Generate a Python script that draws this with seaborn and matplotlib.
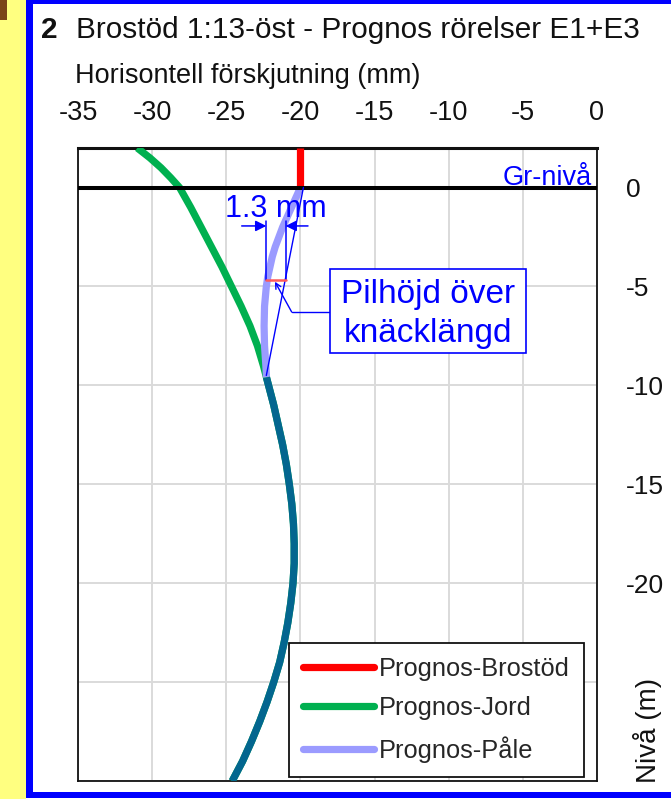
import matplotlib
matplotlib.use("Agg")
import matplotlib.pyplot as plt
import seaborn as sns
import pandas as pd
from matplotlib.patches import Rectangle
from matplotlib.lines import Line2D

# ---------------- data ----------------
title_num = "2"
title_text = "Brostöd 1:13-öst - Prognos rörelser E1+E3"
x_label = "Horisontell förskjutning (mm)"
y_label = "Nivå (m)"
x_ticks = [-35, -30, -25, -20, -15, -10, -5, 0]
y_ticks = [0, -5, -10, -15, -20, -25, -30]
y_tick_labels = ["0", "-5", "-10", "-15", "-20", "", ""]
series_names = ["Prognos-Brostöd", "Prognos-Jord", "Prognos-Påle"]

brostod_depth = [2.0, 0.0]
brostod_x = [-20.0, -20.0]

jord_depth = [2.0, 1.5, 1.0, 0.5, 0.0, -1, -2, -3, -4, -5, -6, -7, -8, -9, -10,
              -11, -12, -13, -14, -15, -16, -17, -18, -19, -20, -21, -22, -23,
              -24, -25, -26, -27, -28, -29, -30]
jord_x = [-31.0, -30.15, -29.4, -28.75, -28.15, -27.4, -26.7, -26.0, -25.3, -24.65,
          -24.0, -23.4, -22.9, -22.5, -22.15, -21.8, -21.5, -21.2, -20.95, -20.75,
          -20.58, -20.47, -20.42, -20.42, -20.5, -20.65, -20.85, -21.1, -21.4,
          -21.8, -22.25, -22.75, -23.3, -23.9, -24.6]

# pile: upper free part (deviates from soil) and lower part following the soil
pale_upper_depth = [0.0, -0.5, -1.0, -1.5, -2.0, -2.5, -3.0, -3.5, -4.0, -4.5,
                    -5.0, -6.0, -7.0, -8.0, -9.0, -9.6]
pale_upper_x = [-20.0, -20.3, -20.6, -20.9, -21.2, -21.45, -21.7, -21.9, -22.05,
                -22.2, -22.3, -22.42, -22.45, -22.42, -22.33, -22.29]
pale_lower_depth = [-9.6, -10, -11, -12, -13, -14, -15, -16, -17, -18, -19, -20,
                    -21, -22, -23, -24, -25, -26, -27, -28, -29, -30]
pale_lower_x = [-22.29, -22.15, -21.8, -21.5, -21.2, -20.95, -20.75, -20.58,
                -20.47, -20.42, -20.42, -20.5, -20.65, -20.85, -21.1, -21.4,
                -21.8, -22.25, -22.75, -23.3, -23.9, -24.6]

# buckling annotation values
sag_label = "1.3 mm"
sag_top_depth = -1.7
sag_depth = -4.67
sag_left = -22.3
sag_right = -21.0
chord_depth = [0.0, -9.5]
chord_x = [-19.8, -22.3]
callout_text = ["Pilhöjd över", "knäcklängd"]
ground_label = "Gr-nivå"

# ---------------- style ----------------
sns.set_theme(style="white")
plt.rcParams["font.family"] = ["Liberation Sans", "DejaVu Sans"]

W, H = 671, 799
fig = plt.figure(figsize=(W / 100, H / 100), dpi=100)
fig.patch.set_facecolor("white")


def px_rect(x0, y0, x1, y1, color, **kw):
    r = Rectangle((x0 / W, 1 - y1 / H), (x1 - x0) / W, (y1 - y0) / H,
                  transform=fig.transFigure, facecolor=color, edgecolor="none", **kw)
    fig.add_artist(r)


# frame decoration
px_rect(0, 0, 25.5, H, "#ffff80")
px_rect(0, 0, 7, 20, "#7a4518")
px_rect(25.5, 0, 32.5, 797.5, "#0000ff")
px_rect(25.5, 0, W, 3.5, "#0000ff")
px_rect(25.5, 791.5, W, 797.5, "#0000ff")

ax = fig.add_axes([78 / W, 1 - 781 / H, 519 / W, 633 / H])
ax.set_facecolor("white")

RED = "#ff0000"
GREEN = "#00b050"
LAV = "#9b9bff"
TEAL = "#03668f"
BLUE = "#0000ff"

df_j = pd.DataFrame({"x": jord_x, "d": jord_depth})
df_pu = pd.DataFrame({"x": pale_upper_x, "d": pale_upper_depth})
df_pl = pd.DataFrame({"x": pale_lower_x, "d": pale_lower_depth})
df_b = pd.DataFrame({"x": brostod_x, "d": brostod_depth})

common = dict(sort=False, estimator=None, orient="y", legend=False, ax=ax)
sns.lineplot(data=df_j, x="x", y="d", color=GREEN, lw=5.2, zorder=3,
             solid_capstyle="butt", solid_joinstyle="round", **common)
sns.lineplot(data=df_pu, x="x", y="d", color=LAV, lw=5.2, zorder=4,
             solid_capstyle="butt", solid_joinstyle="round", **common)
sns.lineplot(data=df_pl, x="x", y="d", color=TEAL, lw=5.2, zorder=4,
             solid_capstyle="butt", solid_joinstyle="round", **common)
sns.lineplot(data=df_b, x="x", y="d", color=RED, lw=5.2, zorder=5,
             solid_capstyle="butt", **common)

ax.axhline(0, color="black", lw=2.9, zorder=6)

ax.set_xlim(-35, 0)
ax.set_ylim(-30, 2)
ax.set_xticks(x_ticks)
ax.set_xticklabels([str(v) for v in x_ticks])
ax.set_yticks(y_ticks)
ax.set_yticklabels(y_tick_labels)
ax.set_xlabel("")
ax.set_ylabel("")
ax.grid(True, color="#dadada", lw=1.4)
ax.set_axisbelow(True)
ax.tick_params(axis="x", top=True, bottom=False, labeltop=True, labelbottom=False,
               length=0, pad=16, labelsize=19.5, labelcolor="#111111")
ax.tick_params(axis="y", right=True, left=False, labelright=True, labelleft=False,
               length=0, pad=21, labelsize=19, labelcolor="#111111")
for s in ax.spines.values():
    s.set_visible(True)
    s.set_color("#111111")
    s.set_linewidth(1.3)
ax.spines["top"].set_linewidth(2.2)

# annotation: sag measurement
ann_kw = dict(color=BLUE, lw=1.1, zorder=7)
ax.plot([sag_left, sag_left], [sag_top_depth, sag_depth], **ann_kw)
ax.plot([sag_right, sag_right], [sag_top_depth, sag_depth], **ann_kw)
ax.plot(chord_x, chord_depth, color=BLUE, lw=1.0, zorder=7)
ax.plot([sag_left, sag_right], [sag_depth, sag_depth], color="#ff5a5a", lw=1.8, zorder=7)
arr = dict(arrowstyle="-|>", color=BLUE, lw=1.1, mutation_scale=16, shrinkA=0, shrinkB=0)
ax.annotate("", xy=(sag_left, -1.94), xytext=(-23.96, -1.94), arrowprops=arr, zorder=8)
ax.annotate("", xy=(sag_right, -1.94), xytext=(-19.49, -1.94), arrowprops=arr, zorder=8)
ax.text(-21.66, -1.5, sag_label, color=BLUE, fontsize=22, ha="center", va="baseline", zorder=9)

# callout
ax.plot([-18.0, -20.59], [-6.29, -6.29], color=BLUE, lw=1.0, zorder=7)
ax.annotate("", xy=(-21.72, -4.76), xytext=(-20.59, -6.29),
            arrowprops=dict(arrowstyle="->", color=BLUE, lw=1.0, mutation_scale=10,
                            shrinkA=0, shrinkB=0), zorder=8)
ax.add_patch(Rectangle((-18.0, -8.38), 13.21, 4.25, facecolor="white",
                       edgecolor=BLUE, lw=1.2, zorder=8))
ax.text(-11.4, -5.85, callout_text[0], color=BLUE, fontsize=24, ha="center",
        va="baseline", zorder=9)
ax.text(-11.4, -7.79, callout_text[1], color=BLUE, fontsize=24, ha="center",
        va="baseline", zorder=9)

ax.text(-0.36, 0.13, ground_label, color=BLUE, fontsize=19.5, ha="right",
        va="baseline", zorder=9)

# legend
handles = [Line2D([], [], color=c, lw=5.2) for c in (RED, GREEN, LAV)]
leg = ax.legend(handles, series_names, loc="lower right", bbox_to_anchor=(0.975, 0.0068),
                fontsize=18.3, frameon=True, fancybox=False, edgecolor="#111111",
                framealpha=1, borderpad=0.55, labelspacing=0.62, handlelength=2.8,
                handletextpad=0.2, borderaxespad=0)
leg.get_frame().set_linewidth(1.3)
leg.set_zorder(10)

# titles / labels
fig.text(40.5 / W, 1 - 38.3 / H, title_num, fontsize=21.4, fontweight="bold",
         va="baseline", ha="left", color="#111111")
fig.text(75.5 / W, 1 - 38.3 / H, title_text, fontsize=21.4, va="baseline",
         ha="left", color="#111111")
fig.text(75 / W, 1 - 83.3 / H, x_label, fontsize=19.5, va="baseline", ha="left",
         color="#111111")
fig.text(648 / W, 1 - 730 / H, y_label, fontsize=20, rotation=90, ha="center",
         va="center", color="#111111")

fig.savefig("out.png", dpi=100)
